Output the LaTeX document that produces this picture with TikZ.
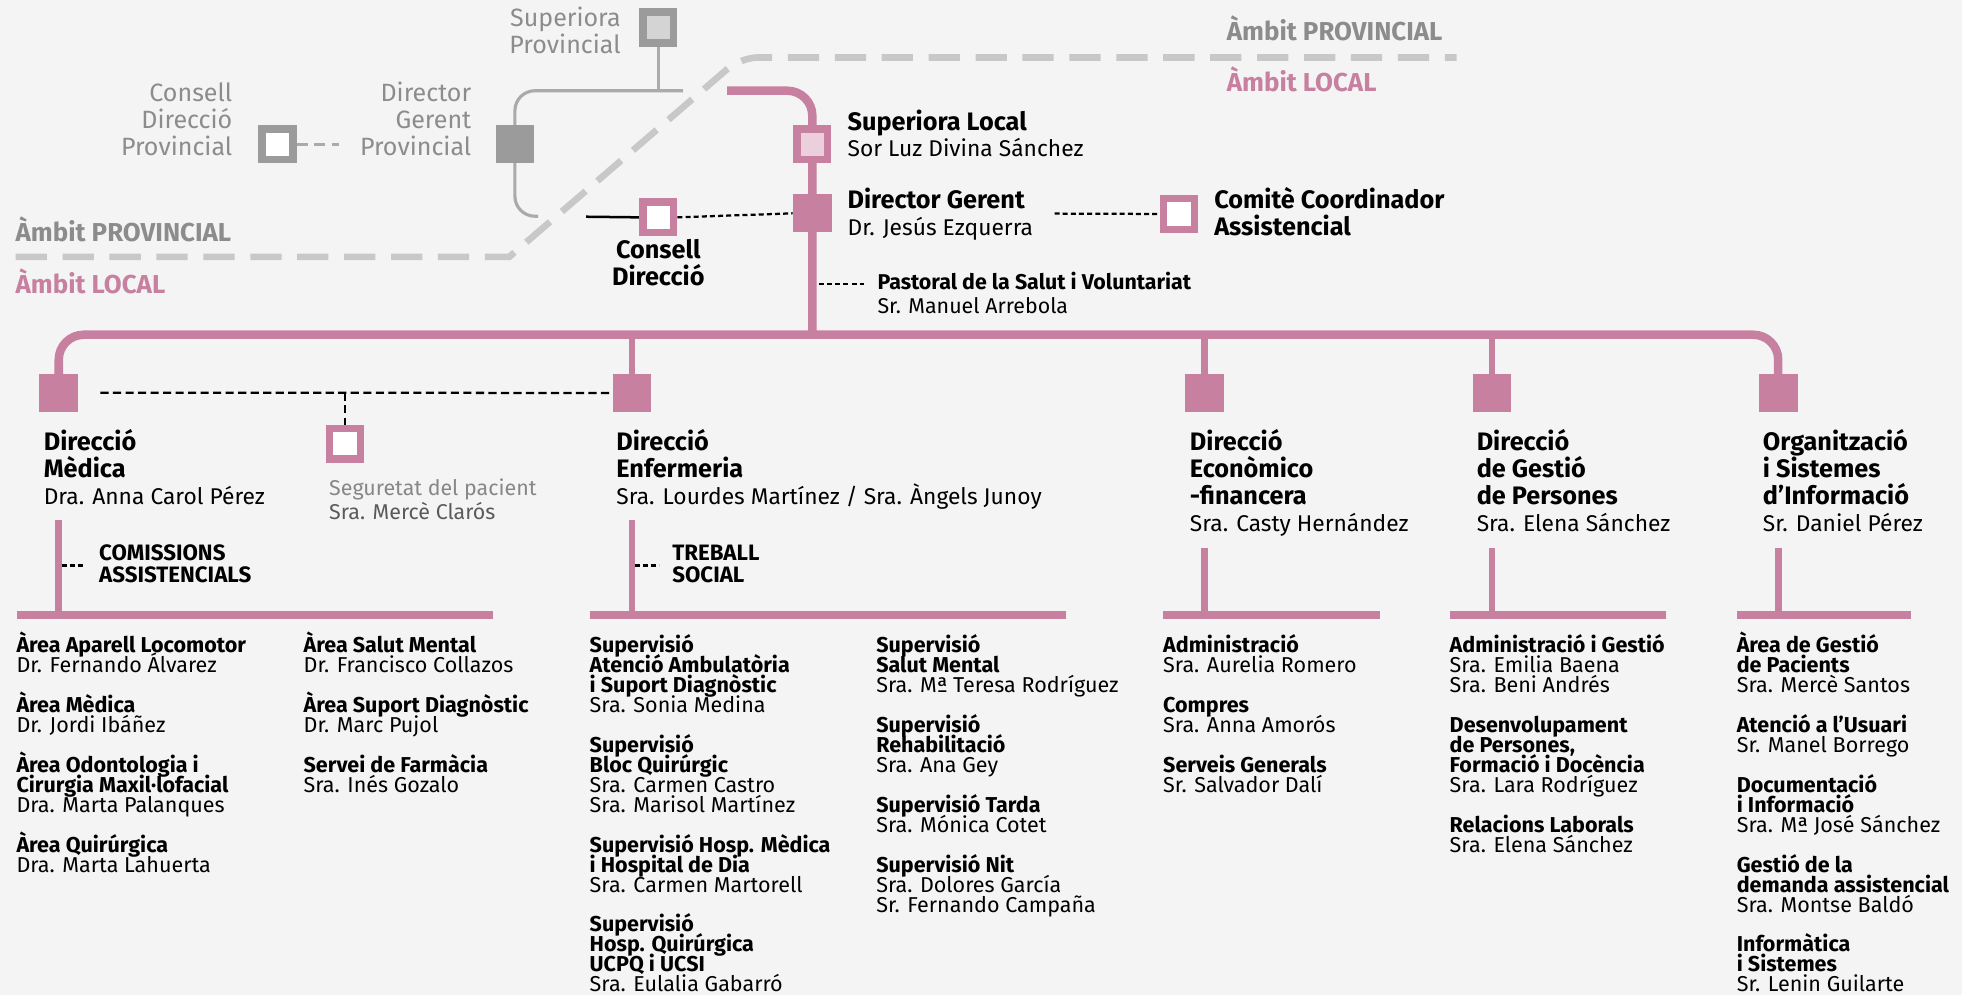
\documentclass[tikz,border=0pt]{standalone}
\usepackage{fontspec}
\setmainfont{Fira Sans}
\definecolor{pk}{RGB}{200,128,160}
\definecolor{pkl}{RGB}{236,207,220}
\definecolor{gd}{RGB}{155,155,155}
\definecolor{glf}{RGB}{212,212,212}
\definecolor{gt}{RGB}{140,140,140}
\definecolor{gline}{RGB}{170,170,170}
\definecolor{bnd}{RGB}{200,200,200}
\definecolor{bg}{RGB}{244,244,244}
\definecolor{segt}{RGB}{135,135,135}
\definecolor{segn}{RGB}{90,90,90}
\newcommand\TL[2]{\vtop{\baselineskip=#1pt\lineskiplimit=-16000pt\let\\\cr\halign{##\hfil\cr#2\crcr}}}
\newcommand\TR[2]{\vtop{\baselineskip=#1pt\lineskiplimit=-16000pt\let\\\cr\halign{\hfil##\cr#2\crcr}}}
\newcommand\TC[2]{\vtop{\baselineskip=#1pt\lineskiplimit=-16000pt\let\\\cr\halign{\hfil##\hfil\cr#2\crcr}}}
\newcommand\bb[1]{\textbf{#1}}
\newcommand\hb[1]{{\fontsize{20.2}{21.5}\selectfont\bfseries #1}}
\newcommand\hsz{\fontsize{18.2}{21.5}\selectfont}
\newcommand\lsz{\fontsize{17.2}{16}\selectfont}
\newcommand\ssz{\fontsize{17.1}{19}\selectfont}
\newcommand\asz{\fontsize{20.7}{22}\selectfont\bfseries}
\pgfdeclarelayer{bgl}
\pgfdeclarelayer{lines}
\pgfsetlayers{bgl,lines,main}
\tikzset{
  txt/.style={inner sep=0, outer sep=0, anchor=base west},
  fsq/.style={fill=pk, draw=none, minimum width=31, minimum height=30.6, inner sep=0},
  osq/.style={draw=pk, line width=6, fill=white, minimum size=24.6, inner sep=0},
  gsqo/.style={draw=gd, line width=6, fill=glf, minimum size=24.6, inner sep=0},
  gsqw/.style={draw=gd, line width=6, fill=white, minimum size=24.6, inner sep=0},
  gsqf/.style={fill=gd, draw=none, minimum width=30.3, minimum height=30.7, inner sep=0},
  bndl/.style={draw=bnd, line width=5.3, dash pattern=on 25 off 12.5},
  gln/.style={draw=gline, line width=2.5},
  gdash/.style={draw=gline, line width=2.5, dash pattern=on 9 off 5},
  trunk/.style={draw=pk, line width=6.8},
  bus/.style={draw=pk, line width=6.8},
  stub/.style={draw=pk, line width=5.5},
  sub/.style={draw=pk, line width=6.5},
  blk/.style={draw=black, line width=2},
  bdash/.style={draw=black, line width=1.8, dash pattern=on 4 off 2.5},
  bdash2/.style={draw=black, line width=1.8, dash pattern=on 6.5 off 3.5},
}
\begin{document}
\begin{tikzpicture}[x=1pt,y=-1pt]
\begin{pgfonlayer}{bgl}
\fill[bg] (0,0) rectangle (1568,795.2);
\end{pgfonlayer}
\useasboundingbox (0,0) rectangle (1568,795.2);

% ---------- provincial / local boundary
\begin{pgfonlayer}{lines}
\draw[bndl] (12.5,205.3) -- (407,205.3) [rounded corners=14] -- (592,45.9) -- (1164,45.9);
\end{pgfonlayer}
\node[txt, font=\asz, text=gt] (ambp1) at (12.5,193.3) {Àmbit PROVINCIAL};
\node[txt, font=\asz, text=pk] (ambl1) at (12.5,234.7) {Àmbit LOCAL};
\node[txt, font=\asz, text=gt] (ambp2) at (980.5,32.5) {Àmbit PROVINCIAL};
\node[txt, font=\asz, text=pk] (ambl2) at (980.5,73.3) {Àmbit LOCAL};

% ---------- provincial (gray)
\node[gsqo] (supprov) at (526.1,22) {};
\node[gsqf] (dgp) at (411.5,115.3) {};
\node[gsqw] (cdp) at (221.8,115.3) {};
\coordinate (gh) at (526.1,72.5);
\coordinate (ghr) at (546,72.5);
\coordinate (gb) at (430,172.8);
\coordinate (cdpe) at (271.3,115.3);
\begin{pgfonlayer}{lines}
\draw[gln] (supprov.south) -- (gh);
\draw[gln, rounded corners=16] (ghr) -- (dgp.center |- ghr) -- (dgp.center |- gb) -- (gb);
\draw[gdash] (cdp.east) -- (cdpe);
\end{pgfonlayer}
\node[txt, anchor=base east, font=\fontsize{20}{21.4}\selectfont, text=gt] (tsupprov) at (496,21.3) {\TR{21.4}{Superiora\\Provincial}};
\node[txt, anchor=base east, font=\fontsize{20}{21.4}\selectfont, text=gt] (tdgp) at (376.6,81.3) {\TR{21.4}{Director\\Gerent\\Provincial}};
\node[txt, anchor=base east, font=\fontsize{20}{21.4}\selectfont, text=gt] (tcdp) at (185.6,81.3) {\TR{21.4}{Consell\\Direcció\\Provincial}};

% ---------- local top
\node[osq, fill=pkl] (sl) at (649.2,115.3) {};
\node[fsq] (dg) at (649.2,170.5) {};
\node[osq] (cd) at (526.1,173.7) {};
\node[osq] (com) at (942.2,171) {};
\coordinate (tstart) at (581,72.5);
\coordinate (bustop) at (649.2,267.5);
\coordinate (bl) at (468.4,173.2);
\coordinate (dgd) at (842.8,170.7);
\coordinate (p1) at (654.5,226.7);
\coordinate (p2) at (690.3,226.7);

\node[txt, font=\hsz] (tsl) at (677.4,104) {\TL{21.3}{\hb{Superiora Local}\\Sor Luz Divina Sánchez}};
\node[txt, font=\hsz] (tdg) at (677.4,166.7) {\TL{21.3}{\hb{Director Gerent}\\Dr. Jesús Ezquerra}};
\node[txt, font=\hsz] (tcom) at (970.4,166.7) {\TL{21.3}{\hb{Comitè Coordinador}\\\hb{Assistencial}}};
\node[txt, anchor=base, font=\hsz] (tcd) at (526.1,206.7) {\TC{21.3}{\hb{Consell}\\\hb{Direcció}}};
\node[txt, font=\ssz] (tpas) at (701.3,231.5) {\TL{19.2}{\bb{Pastoral de la Salut i Voluntariat}\\Sr. Manuel Arrebola}};

% ---------- directions
\node[fsq] (med) at (46.95,314) {};
\node[fsq] (enf) at (505.1,314) {};
\node[fsq] (eco) at (962.7,314) {};
\node[fsq] (ges) at (1192.4,314) {};
\node[fsq] (org) at (1421.1,314) {};
\node[osq] (seg) at (275.8,354.6) {};
\coordinate (md) at (80.3,313.9);

\begin{pgfonlayer}{lines}
\draw[trunk, rounded corners=20] (tstart) -- (tstart -| sl) -- (bustop);
\draw[blk] (bl) -- (cd.west);
\draw[bdash] (cd.east) -- (dg.west);
\draw[bdash] (dgd) -- (com.west);
\draw[bdash] (p1) -- (p2);
\draw[bus, rounded corners=20] (med.center) -- (med.center |- bustop) -- (org.center |- bustop) -- (org.center);
\draw[stub] (enf.center |- bustop) -- (enf.north);
\draw[stub] (eco.center |- bustop) -- (eco.north);
\draw[stub] (ges.center |- bustop) -- (ges.north);
\draw[bdash2] (md) -- (enf.west);
\draw[bdash2] (seg.north |- md) -- (seg.north);
\end{pgfonlayer}

\node[txt, font=\hsz] (tmed) at (35,360) {\TL{21.5}{\hb{Direcció}\\\hb{Mèdica}\\Dra. Anna Carol Pérez}};
\node[txt, font=\hsz] (tenf) at (492.6,360) {\TL{21.5}{\hb{Direcció}\\\hb{Enfermeria}\\Sra. Lourdes Martínez / Sra. Àngels Junoy}};
\node[txt, font=\hsz] (teco) at (951,360) {\TL{21.5}{\hb{Direcció}\\\hb{Econòmico}\\\hb{-financera}\\Sra. Casty Hernández}};
\node[txt, font=\hsz] (tges) at (1180.2,360) {\TL{21.5}{\hb{Direcció}\\\hb{de Gestió}\\\hb{de Persones}\\Sra. Elena Sánchez}};
\node[txt, font=\hsz] (torg) at (1408.9,360) {\TL{21.5}{\hb{Organització}\\\hb{i Sistemes}\\\hb{d’Informació}\\Sr. Daniel Pérez}};
\node[txt, font=\ssz] (tseg) at (263.1,396) {\TL{19.5}{\textcolor{segt}{Seguretat del pacient}\\\textcolor{segn}{Sra. Mercè Clarós}}};

% ---------- lower verticals and sub-buses
\coordinate (v1) at (46.95,415.5);
\coordinate (v2) at (505.1,415.5);
\coordinate (v3) at (962.7,437.9);
\coordinate (v4) at (1192.4,437.9);
\coordinate (v5) at (1421.1,437.9);
\coordinate (s1l) at (13.2,491.3);   \coordinate (s1r) at (394,491.3);
\coordinate (s2l) at (471.3,491.3);  \coordinate (s2r) at (851.8,491.3);
\coordinate (s3l) at (929.6,491.3);  \coordinate (s3r) at (1102.8,491.3);
\coordinate (s4l) at (1158.6,491.3); \coordinate (s4r) at (1331.4,491.3);
\coordinate (s5l) at (1388,491.3);   \coordinate (s5r) at (1527.3,491.3);
\coordinate (c1a) at (49.3,452); \coordinate (c1b) at (68.5,452);
\coordinate (c2a) at (507.5,452); \coordinate (c2b) at (527,452);
\begin{pgfonlayer}{lines}
\draw[stub] (v1) -- (v1 |- s1l);
\draw[stub] (v2) -- (v2 |- s2l);
\draw[stub] (v3) -- (v3 |- s3l);
\draw[stub] (v4) -- (v4 |- s4l);
\draw[stub] (v5) -- (v5 |- s5l);
\draw[sub] (s1l) -- (s1r);
\draw[sub] (s2l) -- (s2r);
\draw[sub] (s3l) -- (s3r);
\draw[sub] (s4l) -- (s4r);
\draw[sub] (s5l) -- (s5r);
\draw[bdash] (c1a) -- (c1b);
\draw[bdash] (c2a) -- (c2b);
\end{pgfonlayer}
\node[txt, font=\bfseries\fontsize{17.8}{17}\selectfont] (tcomis) at (79.3,448) {\TL{17.3}{COMISSIONS\\ASSISTENCIALS}};
\node[txt, font=\bfseries\fontsize{17.8}{17}\selectfont] (ttreb) at (537.3,448) {\TL{17.3}{TREBALL\\SOCIAL}};

% ---------- lists
\node[txt, font=\lsz] (l1) at (13.2,521.8) {\TL{15.93}{\bb{Àrea Aparell Locomotor}\\Dr. Fernando Álvarez\\\\\bb{Àrea Mèdica}\\Dr. Jordi Ibáñez\\\\\bb{Àrea Odontologia i}\\\bb{Cirurgia Maxil·lofacial}\\Dra. Marta Palanques\\\\\bb{Àrea Quirúrgica}\\Dra. Marta Lahuerta}};
\node[txt, font=\lsz] (l2) at (242.7,521.8) {\TL{15.93}{\bb{Àrea Salut Mental}\\Dr. Francisco Collazos\\\\\bb{Àrea Suport Diagnòstic}\\Dr. Marc Pujol\\\\\bb{Servei de Farmàcia}\\Sra. Inés Gozalo}};
\node[txt, font=\lsz] (l3) at (471.3,521.8) {\TL{15.93}{\bb{Supervisió}\\\bb{Atenció Ambulatòria}\\\bb{i Suport Diagnòstic}\\Sra. Sonia Medina\\\\\bb{Supervisió}\\\bb{Bloc Quirúrgic}\\Sra. Carmen Castro\\Sra. Marisol Martínez\\\\\bb{Supervisió Hosp. Mèdica}\\\bb{i Hospital de Dia}\\Sra. Carmen Martorell\\\\\bb{Supervisió}\\\bb{Hosp. Quirúrgica}\\\bb{UCPQ i UCSI}\\Sra. Eulalia Gabarró}};
\node[txt, font=\lsz] (l4) at (700.3,521.8) {\TL{15.93}{\bb{Supervisió}\\\bb{Salut Mental}\\Sra. Mª Teresa Rodríguez\\\\\bb{Supervisió}\\\bb{Rehabilitació}\\Sra. Ana Gey\\\\\bb{Supervisió Tarda}\\Sra. Mónica Cotet\\\\\bb{Supervisió Nit}\\Sra. Dolores García\\Sr. Fernando Campaña}};
\node[txt, font=\lsz] (l5) at (929.6,521.8) {\TL{15.93}{\bb{Administració}\\Sra. Aurelia Romero\\\\\bb{Compres}\\Sra. Anna Amorós\\\\\bb{Serveis Generals}\\Sr. Salvador Dalí}};
\node[txt, font=\lsz] (l6) at (1158.6,521.8) {\TL{15.93}{\bb{Administració i Gestió}\\Sra. Emilia Baena\\Sra. Beni Andrés\\\\\bb{Desenvolupament}\\\bb{de Persones,}\\\bb{Formació i Docència}\\Sra. Lara Rodríguez\\\\\bb{Relacions Laborals}\\Sra. Elena Sánchez}};
\node[txt, font=\lsz] (l7) at (1388,521.8) {\TL{15.93}{\bb{Àrea de Gestió}\\\bb{de Pacients}\\Sra. Mercè Santos\\\\\bb{Atenció a l’Usuari}\\Sr. Manel Borrego\\\\\bb{Documentació}\\\bb{i Informació}\\Sra. Mª José Sánchez\\\\\bb{Gestió de la}\\\bb{demanda assistencial}\\Sra. Montse Baldó\\\\\bb{Informàtica}\\\bb{i Sistemes}\\Sr. Lenin Guilarte}};
\end{tikzpicture}
\end{document}
